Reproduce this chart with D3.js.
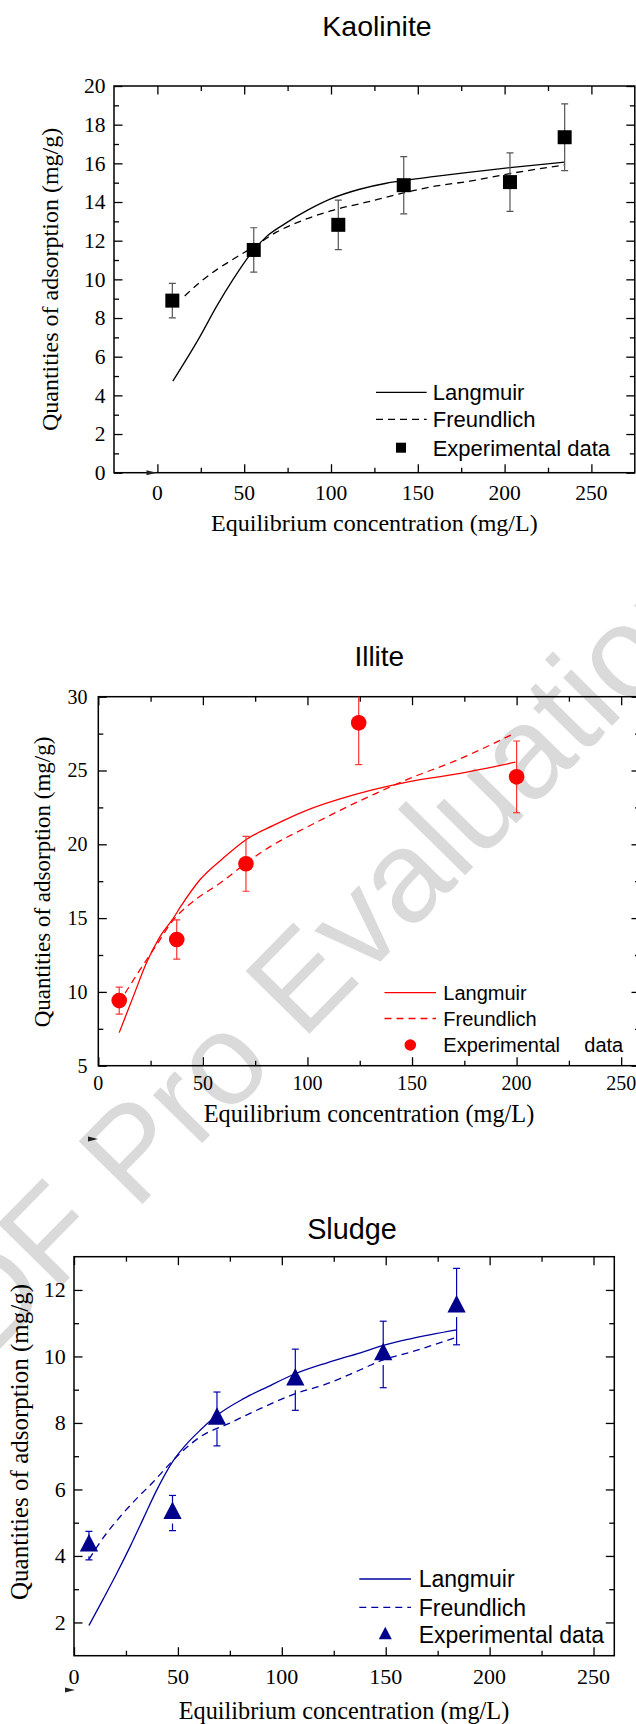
<!DOCTYPE html>
<html><head><meta charset="utf-8">
<script src="https://cdn.jsdelivr.net/npm/d3@7/dist/d3.min.js"></script>
<style>body{margin:0;background:#fff}svg{display:block}</style>
</head><body>
<svg id="c" width="636" height="1724"></svg>
<script>
// ---------------- DATA ----------------
const xTicks = [0, 50, 100, 150, 200, 250];
const xMinorTicks = [25, 75, 125, 175, 225];
const legendLabels = ["Langmuir", "Freundlich", "Experimental data"];
const xAxisTitle = "Equilibrium concentration (mg/L)";
const yAxisTitle = "Quantities of adsorption (mg/g)";
const panelTitles = ["Kaolinite", "Illite", "Sludge"];

// Kaolinite
const kaoliniteX   = [8.6, 55.5, 104.2, 141.9, 203.1, 234.6];
const kaoliniteY   = [8.9, 11.52, 12.82, 14.87, 15.03, 17.35];
const kaoliniteErr = [0.89, 1.15, 1.28, 1.48, 1.51, 1.73];
const kaoliniteLangmuirX = [8.9, 24.5, 34.0, 43.6, 55.5, 62.8, 73.3, 86.8, 99.8, 116.5, 131.9, 141.9, 158.8, 178, 203.1, 234.6];
const kaoliniteLangmuirY = [4.74, 7.04, 8.59, 10.0, 11.52, 12.21, 12.87, 13.59, 14.16, 14.66, 14.97, 15.11, 15.31, 15.52, 15.78, 16.06];
const kaoliniteFreundlichX = [15.7, 24.5, 34.0, 43.6, 55.5, 68.5, 82, 99.8, 120.4, 141.9, 158.8, 180, 203.1, 234.6];
const kaoliniteFreundlichY = [9.14, 9.85, 10.49, 11.04, 11.69, 12.44, 12.99, 13.54, 13.99, 14.47, 14.8, 15.08, 15.47, 15.92];
const kaoliniteYTicks = [0, 2, 4, 6, 8, 10, 12, 14, 16, 18, 20];
const kaoliniteYMinor = [1, 3, 5, 7, 9, 11, 13, 15, 17, 19];

// Illite
const illiteX   = [10.0, 37.5, 70.6, 124.5, 200.0];
const illiteY   = [9.41, 13.55, 18.68, 28.23, 24.57];
const illiteErr = [0.92, 1.33, 1.86, 2.83, 2.43];
const illiteLangmuirX = [10.0, 16.7, 23.1, 29.5, 35.9, 39.1, 48.6, 59.8, 70.6, 83.7, 99.6, 115.6, 131.5, 147.5, 171.4, 199.4];
const illiteLangmuirY = [7.24, 9.68, 11.99, 13.75, 15.0, 15.72, 17.6, 19.07, 20.31, 21.28, 22.3, 23.07, 23.7, 24.22, 24.77, 25.56];
const illiteFreundlichX = [12.8, 19.9, 27.9, 35.9, 43.8, 59.8, 70.6, 83.7, 99.6, 115.6, 131.5, 147.5, 171.4, 199.4];
const illiteFreundlichY = [9.91, 11.49, 13.19, 14.88, 15.95, 17.53, 18.73, 19.97, 21.15, 22.3, 23.37, 24.38, 25.7, 27.55];
const illiteYTicks = [5, 10, 15, 20, 25, 30];
const illiteYMinor = [7.5, 12.5, 17.5, 22.5, 27.5];

// Sludge
const sludgeX   = [7.2, 47.4, 68.8, 106.5, 148.8, 184.1];
const sludgeY   = [4.31, 5.29, 8.12, 9.30, 10.06, 11.5];
const sludgeErr = [0.43, 0.53, 0.81, 0.92, 1.0, 1.15];
const sludgeLangmuirX = [7.2, 14.1, 20.6, 27.0, 33.4, 39.8, 47.4, 55.1, 60.7, 68.8, 81.6, 92.9, 106.5, 121.8, 137.8, 148.8, 161.9, 184.1];
const sludgeLangmuirY = [1.91, 2.71, 3.48, 4.28, 5.13, 5.98, 6.83, 7.43, 7.78, 8.23, 8.73, 9.08, 9.48, 9.81, 10.11, 10.33, 10.53, 10.80];
const sludgeFreundlichX = [7.2, 14.1, 22.2, 30.2, 38.2, 44.7, 52.7, 60.7, 74.4, 89.6, 106.5, 121.8, 137.8, 148.8, 161.9, 184.1];
const sludgeFreundlichY = [3.90, 4.55, 5.18, 5.73, 6.23, 6.68, 7.18, 7.58, 7.98, 8.43, 8.88, 9.18, 9.6, 9.9, 10.13, 10.58];
const sludgeYTicks = [2, 4, 6, 8, 10, 12];
const sludgeYMinor = [3, 5, 7, 9, 11];

const watermarkText = "PDF Pro Evaluation";

// ---------------- DRAWING ----------------
const SERIF = "'Times New Roman', 'Liberation Serif', serif";
const SANS = "Arial, 'Liberation Sans', sans-serif";
const svg = d3.select("#c");
svg.append("rect").attr("width", 636).attr("height", 1724).attr("fill", "#fff");

// watermark (behind everything)
svg.append("text")
  .attr("transform", "translate(-72.6,1422.6) rotate(-45.5)")
  .attr("font-family", SANS).attr("font-size", 130)
  .attr("fill", "#dadada")
  .text(watermarkText);

const zip = (a, b) => a.map((v, i) => [v, b[i]]);

// custom triangle (centroid centred)
function triPath(w, h) {
  return `M0,${-2 * h / 3}L${w / 2},${h / 3}L${-w / 2},${h / 3}Z`;
}

function drawPanel(c, idx) {
  const g = svg.append("g");
  const x = d3.scaleLinear().domain(c.xDomain).range([c.left, c.right]);
  const y = d3.scaleLinear().domain(c.yDomain).range([c.bottom, c.top]);
  const MAJ = 8.5, MIN = 5;

  const axes = [
    [d3.axisBottom(x).tickValues(xTicks).tickSize(-MAJ), `translate(0,${c.bottom})`],
    [d3.axisBottom(x).tickValues(xMinorTicks).tickSize(-MIN), `translate(0,${c.bottom})`],
    [d3.axisTop(x).tickValues(xTicks).tickSize(-MAJ), `translate(0,${c.top})`],
    [d3.axisTop(x).tickValues(xMinorTicks).tickSize(-MIN), `translate(0,${c.top})`],
    [d3.axisLeft(y).tickValues(c.yTicks).tickSize(-MAJ), `translate(${c.left},0)`],
    [d3.axisLeft(y).tickValues(c.yMinor).tickSize(-MIN), `translate(${c.left},0)`],
    [d3.axisRight(y).tickValues(c.yTicks).tickSize(-MAJ), `translate(${c.right},0)`],
    [d3.axisRight(y).tickValues(c.yMinor).tickSize(-MIN), `translate(${c.right},0)`]
  ];
  axes.forEach(([ax, tr]) => {
    const a = g.append("g").attr("transform", tr).call(ax.tickFormat(""));
    a.select(".domain").remove();
    a.selectAll("line").attr("stroke", "#000").attr("stroke-width", 1.3);
  });
  g.append("rect").attr("x", c.left).attr("y", c.top)
    .attr("width", c.right - c.left).attr("height", c.bottom - c.top)
    .attr("fill", "none").attr("stroke", "#000").attr("stroke-width", 1.5);

  // tick labels
  g.append("g").selectAll("text").data(xTicks).join("text")
    .attr("x", d => x(d)).attr("y", c.xTickBase)
    .attr("text-anchor", "middle").attr("font-family", SERIF).attr("font-size", c.tickFont)
    .text(d => d);
  g.append("g").selectAll("text").data(c.yTicks).join("text")
    .attr("x", c.yTickEnd).attr("y", d => y(d)).attr("dy", "0.34em")
    .attr("text-anchor", "end").attr("font-family", SERIF).attr("font-size", c.tickFont)
    .text(d => d);

  // axis titles
  g.append("text").attr("x", c.xLabel[0]).attr("y", c.xLabel[1])
    .attr("text-anchor", "middle").attr("font-family", SERIF).attr("font-size", c.xLabel[2])
    .text(xAxisTitle);
  g.append("text").attr("transform", `translate(${c.yLabel[0]},${c.yLabel[1]}) rotate(-90)`)
    .attr("text-anchor", "middle").attr("font-family", SERIF).attr("font-size", c.yLabel[2])
    .text(yAxisTitle);
  // title
  g.append("text").attr("x", c.title[0]).attr("y", c.title[1])
    .attr("text-anchor", "middle").attr("font-family", SANS).attr("font-size", c.title[2])
    .text(panelTitles[idx]);

  // clip
  const cid = "clip" + idx;
  g.append("clipPath").attr("id", cid).append("rect")
    .attr("x", c.left).attr("y", c.top).attr("width", c.right - c.left).attr("height", c.bottom - c.top);
  const data = g.append("g").attr("clip-path", `url(#${cid})`);

  const line = d3.line().x(d => x(d[0])).y(d => y(d[1])).curve(d3.curveMonotoneX);
  data.append("path").attr("d", line(zip(c.langX, c.langY)))
    .attr("fill", "none").attr("stroke", c.color).attr("stroke-width", 1.3);
  data.append("path").attr("d", line(zip(c.freX, c.freY)))
    .attr("fill", "none").attr("stroke", c.color).attr("stroke-width", 1.3)
    .attr("stroke-dasharray", "7,5");

  // error bars
  const pts = c.px.map((v, i) => ({ x: v, y: c.py[i], e: c.pe[i] }));
  const eb = data.append("g").attr("stroke", c.errColor).attr("stroke-width", 1.2).attr("fill", "none");
  pts.forEach(p => {
    const cx = x(p.x), yt = y(p.y + p.e), yb = y(p.y - p.e), yc = y(p.y);
    if (c.lowerGap) {
      eb.append("line").attr("x1", cx).attr("x2", cx).attr("y1", yt).attr("y2", yc);
      if (yc + c.lowerGap < yb) eb.append("line").attr("x1", cx).attr("x2", cx).attr("y1", yc + c.lowerGap).attr("y2", yb);
    } else {
      eb.append("line").attr("x1", cx).attr("x2", cx).attr("y1", yt).attr("y2", yb);
    }
    eb.append("line").attr("x1", cx - 3.5).attr("x2", cx + 3.5).attr("y1", yt).attr("y2", yt);
    eb.append("line").attr("x1", cx - 3.5).attr("x2", cx + 3.5).attr("y1", yb).attr("y2", yb);
  });

  // markers
  function marker(sel, big) {
    if (c.marker === "square") {
      const s = big ? 14 : 10;
      sel.append("rect").attr("x", -s / 2).attr("y", -s / 2).attr("width", s).attr("height", s).attr("fill", c.markColor);
    } else if (c.marker === "circle") {
      sel.append("circle").attr("r", big ? 7.8 : 5.8).attr("fill", c.markColor);
    } else {
      sel.append("path").attr("d", big ? triPath(18.3, 17.5) : triPath(13, 12.5)).attr("fill", c.markColor);
    }
  }
  pts.forEach(p => {
    marker(data.append("g").attr("transform", `translate(${x(p.x)},${y(p.y)})`), true);
  });

  // legend
  const L = c.legend;
  const lg = g.append("g");
  lg.append("line").attr("x1", L.x0).attr("x2", L.x1).attr("y1", L.ys[0]).attr("y2", L.ys[0])
    .attr("stroke", c.color).attr("stroke-width", 1.3);
  lg.append("line").attr("x1", L.x0).attr("x2", L.x1).attr("y1", L.ys[1]).attr("y2", L.ys[1])
    .attr("stroke", c.color).attr("stroke-width", 1.3).attr("stroke-dasharray", "7,5");
  marker(lg.append("g").attr("transform", `translate(${L.mx},${L.ys[2]})`), false);
  [0, 1].forEach(i => lg.append("text").attr("x", L.tx).attr("y", L.ys[i]).attr("dy", "0.36em")
    .attr("font-family", SANS).attr("font-size", L.font).text(legendLabels[i]));
  if (L.splitX) {
    const parts = legendLabels[2].split(" ");
    lg.append("text").attr("x", L.tx).attr("y", L.ys[2]).attr("dy", "0.36em")
      .attr("font-family", SANS).attr("font-size", L.font).text(parts[0]);
    lg.append("text").attr("x", L.splitX).attr("y", L.ys[2]).attr("dy", "0.36em")
      .attr("font-family", SANS).attr("font-size", L.font).text(parts[1]);
  } else {
    lg.append("text").attr("x", L.tx).attr("y", L.ys[2]).attr("dy", "0.36em")
      .attr("font-family", SANS).attr("font-size", L.font).text(legendLabels[2]);
  }

  // small stray mark
  g.append("path").attr("d", `M${c.stray[0]},${c.stray[1] - 2.5}L${c.stray[0] + 10},${c.stray[1]}L${c.stray[0]},${c.stray[1] + 2.5}Z`)
    .attr("fill", "#222");
}

const panels = [
  {
    left: 114, right: 634.8, top: 86, bottom: 472.7, xDomain: [-25, 275], yDomain: [0, 20],
    yTicks: kaoliniteYTicks, yMinor: kaoliniteYMinor,
    tickFont: 21.5, xTickBase: 499.5, yTickEnd: 105.5,
    xLabel: [374.4, 531, 24], yLabel: [58, 279.4, 24], title: [377, 35.5, 28.5],
    langX: kaoliniteLangmuirX, langY: kaoliniteLangmuirY, freX: kaoliniteFreundlichX, freY: kaoliniteFreundlichY,
    px: kaoliniteX, py: kaoliniteY, pe: kaoliniteErr,
    color: "#000", errColor: "#555", markColor: "#000", marker: "square",
    legend: { x0: 376, x1: 426.7, tx: 432.7, mx: 401, ys: [392.3, 419.3, 447.7], font: 22 },
    stray: [146.5, 472.7]
  },
  {
    left: 98.3, right: 640, top: 696.7, bottom: 1065.7, xDomain: [0, 259], yDomain: [5, 30],
    yTicks: illiteYTicks, yMinor: illiteYMinor,
    tickFont: 20, xTickBase: 1090.2, yTickEnd: 87.5,
    xLabel: [369, 1121.5, 24.3], yLabel: [50, 882, 23], title: [379.3, 666, 28],
    langX: illiteLangmuirX, langY: illiteLangmuirY, freX: illiteFreundlichX, freY: illiteFreundlichY,
    px: illiteX, py: illiteY, pe: illiteErr,
    color: "#ff0000", errColor: "#ff3333", markColor: "#ff0000", marker: "circle",
    legend: { x0: 384.5, x1: 436, tx: 443.3, mx: 410.3, ys: [992.6, 1018.5, 1045], font: 20, splitX: 584.3 },
    stray: [88, 1139]
  },
  {
    left: 74, right: 614.3, top: 1256.7, bottom: 1655.7, xDomain: [0, 260], yDomain: [1, 13],
    yTicks: sludgeYTicks, yMinor: sludgeYMinor,
    tickFont: 22, xTickBase: 1683.7, yTickEnd: 65.7,
    xLabel: [344, 1718.5, 24.3], yLabel: [28, 1442, 25], title: [352, 1239.3, 28.8],
    langX: sludgeLangmuirX, langY: sludgeLangmuirY, freX: sludgeFreundlichX, freY: sludgeFreundlichY,
    px: sludgeX, py: sludgeY, pe: sludgeErr,
    color: "#0000a0", errColor: "#0000b0", markColor: "#00008b", marker: "triangle", lowerGap: 10.5,
    legend: { x0: 359.3, x1: 411, tx: 418.7, mx: 385.3, ys: [1579, 1607.3, 1635], font: 23 },
    stray: [65, 1690]
  }
];
panels.forEach(drawPanel);
</script>
</body></html>
